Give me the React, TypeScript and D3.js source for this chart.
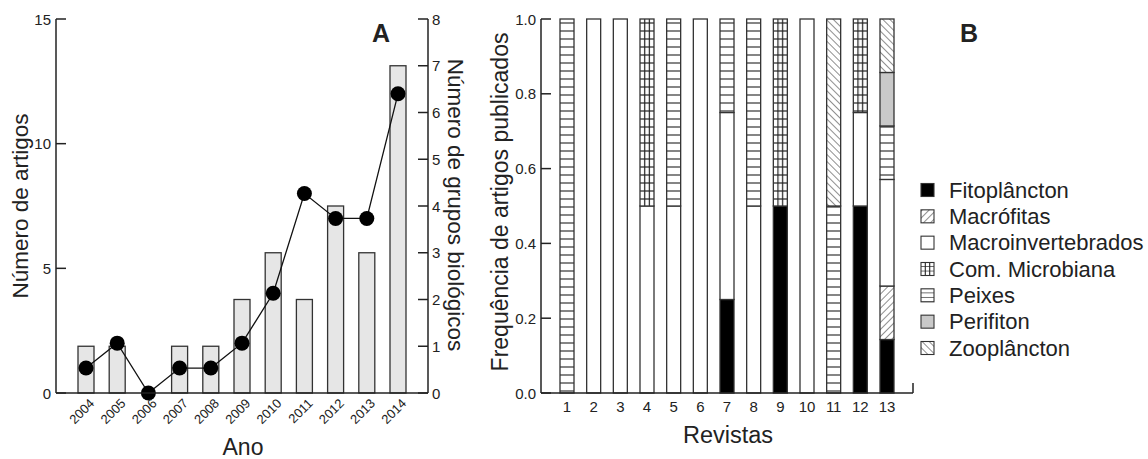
import React from "react";
import * as d3 from "d3";

// Panel A data
const years = ["2004", "2005", "2006", "2007", "2008", "2009", "2010", "2011", "2012", "2013", "2014"];
const grupos = [1, 1, 0, 1, 1, 2, 3, 2, 4, 3, 7]; // bars, right axis
const artigos = [1, 2, 0, 1, 1, 2, 4, 8, 7, 7, 12]; // dots, left axis
const leftTicks = [0, 5, 10, 15];
const rightTicks = [0, 1, 2, 3, 4, 5, 6, 7, 8];

// Panel B data
const revistas = ["1", "2", "3", "4", "5", "6", "7", "8", "9", "10", "11", "12", "13"];
const fitoplancton = [0, 0, 0, 0, 0, 0, 0.25, 0, 0.5, 0, 0, 0.5, 0.143];
const macrofitas = [0, 0, 0, 0, 0, 0, 0, 0, 0, 0, 0, 0, 0.143];
const macroinvertebrados = [0, 1, 1, 0.5, 0.5, 1, 0.5, 0.5, 0, 1, 0, 0.25, 0.285];
const microbiana = [0, 0, 0, 0.5, 0, 0, 0, 0, 0.5, 0, 0, 0.25, 0];
const peixes = [1, 0, 0, 0, 0.5, 0, 0.25, 0.5, 0, 0, 0.5, 0, 0.143];
const perifiton = [0, 0, 0, 0, 0, 0, 0, 0, 0, 0, 0, 0, 0.143];
const zooplancton = [0, 0, 0, 0, 0, 0, 0, 0, 0, 0, 0.5, 0, 0.143];
const groupNames = ["Fitoplâncton", "Macrófitas", "Macroinvertebrados", "Com. Microbiana", "Peixes", "Perifiton", "Zooplâncton"];
const freqTicks = [0, 0.2, 0.4, 0.6, 0.8, 1.0];

const font = "'Liberation Sans', Arial, sans-serif";
const ink = "#222";

export default function App() {
  // panel A scales
  const xA = d3.scalePoint<string>().domain(years).range([86, 398]);
  const yL = d3.scaleLinear().domain([0, 15]).range([393, 19]);
  const yR = d3.scaleLinear().domain([0, 8]).range([393, 19]);
  const line = d3
    .line<number>()
    .x((_, i) => xA(years[i])!)
    .y((d) => yL(d));

  // panel B scales
  const xB = d3.scalePoint<string>().domain(revistas).range([567, 887]);
  const yB = d3.scaleLinear().domain([0, 1]).range([393, 19]);
  const bw = 14;
  const step = xB.step();

  const rows = revistas.map((r, i) => {
    const o: any = { r };
    o[groupNames[0]] = fitoplancton[i];
    o[groupNames[1]] = macrofitas[i];
    o[groupNames[2]] = macroinvertebrados[i];
    o[groupNames[3]] = microbiana[i];
    o[groupNames[4]] = peixes[i];
    o[groupNames[5]] = perifiton[i];
    o[groupNames[6]] = zooplancton[i];
    return o;
  });
  const stacked = d3.stack<any>().keys(groupNames)(rows);

  const fills = ["#000", "url(#macro)", "#fff", "url(#micro)", "url(#peixes)", "#c9c9c9", "url(#zoo)"];
  const legFills = ["#000", "url(#macro)", "#fff", "url(#microLeg)", "url(#peixesLeg)", "#c9c9c9", "url(#zoo)"];
  const legY = d3.scalePoint<string>().domain(groupNames).range([190, 348]);

  return (
    <div style={{ position: "absolute", left: 0, top: 0 }}>
      <svg width={1148} height={459} style={{ display: "block", background: "#fff" }} fontFamily={font}>
        <defs>
          <pattern id="peixes" patternUnits="userSpaceOnUse" width={4} height={8} y={19}>
            <rect width={4} height={8} fill="#fff" />
            <line x1={0} x2={4} y1={4} y2={4} stroke="#333" strokeWidth={1.2} />
          </pattern>
          <pattern id="peixesLeg" patternUnits="userSpaceOnUse" width={4} height={4.5} y={legY(groupNames[4])! - 6.5}>
            <rect width={4} height={4.5} fill="#fff" />
            <line x1={0} x2={4} y1={4.4} y2={4.4} stroke="#333" strokeWidth={1.2} />
          </pattern>
          <pattern id="micro" patternUnits="userSpaceOnUse" width={step} height={8} x={xB("1")! - bw / 2} y={19}>
            <rect width={step} height={8} fill="#fff" />
            <line x1={0} x2={step} y1={4} y2={4} stroke="#222" strokeWidth={1.2} />
            <line x1={bw / 3} x2={bw / 3} y1={0} y2={8} stroke="#222" strokeWidth={1.2} />
            <line x1={(2 * bw) / 3} x2={(2 * bw) / 3} y1={0} y2={8} stroke="#222" strokeWidth={1.2} />
          </pattern>
          <pattern id="microLeg" patternUnits="userSpaceOnUse" width={13} height={4.5} x={921} y={legY(groupNames[3])! - 6.5}>
            <rect width={13} height={4.5} fill="#fff" />
            <line x1={0} x2={13} y1={4.4} y2={4.4} stroke="#222" strokeWidth={1.1} />
            <line x1={4.3} x2={4.3} y1={0} y2={4.5} stroke="#222" strokeWidth={1.1} />
            <line x1={8.7} x2={8.7} y1={0} y2={4.5} stroke="#222" strokeWidth={1.1} />
          </pattern>
          <pattern id="macro" patternUnits="userSpaceOnUse" width={5} height={5} patternTransform="rotate(45)">
            <rect width={5} height={5} fill="#fff" />
            <line x1={0} x2={0} y1={0} y2={5} stroke="#444" strokeWidth={1.2} />
          </pattern>
          <pattern id="zoo" patternUnits="userSpaceOnUse" width={5} height={5} patternTransform="rotate(-45)">
            <rect width={5} height={5} fill="#fff" />
            <line x1={0} x2={0} y1={0} y2={5} stroke="#444" strokeWidth={1.2} />
          </pattern>
        </defs>

        {/* ---------- Panel A ---------- */}
        {grupos.map((g, i) =>
          g > 0 ? (
            <rect
              key={years[i]}
              x={xA(years[i])! - 8}
              y={yR(g)}
              width={16}
              height={yR(0) - yR(g)}
              fill="#e6e6e6"
              stroke="#333"
              strokeWidth={1.3}
            />
          ) : null
        )}
        <path d={line(artigos)!} fill="none" stroke="#111" strokeWidth={1.3} />
        {artigos.map((a, i) => (
          <circle key={years[i]} cx={xA(years[i])} cy={yL(a)} r={7.5} fill="#000" />
        ))}

        {/* axes */}
        <line x1={56} x2={56} y1={19} y2={393} stroke={ink} strokeWidth={1.5} />
        <line x1={428} x2={428} y1={19} y2={393} stroke={ink} strokeWidth={1.5} />
        <line x1={56} x2={428} y1={393} y2={393} stroke={ink} strokeWidth={1.5} />
        {leftTicks.map((t) => (
          <g key={t}>
            <line x1={56} x2={66} y1={yL(t)} y2={yL(t)} stroke={ink} strokeWidth={1.5} />
            <text x={51} y={yL(t)} textAnchor="end" dominantBaseline="central" fontSize={15} fill={ink}>
              {t}
            </text>
          </g>
        ))}
        {rightTicks.map((t) => (
          <g key={t}>
            <line x1={418} x2={428} y1={yR(t)} y2={yR(t)} stroke={ink} strokeWidth={1.5} />
            <text x={432} y={yR(t)} dominantBaseline="central" fontSize={15} fill={ink}>
              {t}
            </text>
          </g>
        ))}
        {years.map((y) => (
          <text
            key={y}
            transform={`translate(${xA(y)! + 6},${401}) rotate(-45)`}
            textAnchor="end"
            dominantBaseline="central"
            fontSize={13}
            fill={ink}
          >
            {y}
          </text>
        ))}
        <text x={243} y={455} textAnchor="middle" fontSize={23} fill={ink}>
          Ano
        </text>
        <text transform="translate(20,206) rotate(-90)" textAnchor="middle" dominantBaseline="central" fontSize={22.5} fill={ink}>
          Número de artigos
        </text>
        <text transform="translate(455,205) rotate(90)" textAnchor="middle" dominantBaseline="central" fontSize={22.5} fill={ink}>
          Número de grupos biológicos
        </text>
        <text x={381} y={42} textAnchor="middle" fontSize={25} fontWeight="bold" fill={ink}>
          A
        </text>

        {/* ---------- Panel B ---------- */}
        {stacked.map((s, k) =>
          s.map((d, i) =>
            d[1] - d[0] > 0 ? (
              <rect
                key={`${k}-${i}`}
                x={xB(revistas[i])! - bw / 2}
                y={yB(d[1])}
                width={bw}
                height={yB(d[0]) - yB(d[1])}
                fill={fills[k]}
                stroke="#333"
                strokeWidth={1.3}
              />
            ) : null
          )
        )}
        <line x1={541} x2={541} y1={19} y2={393} stroke={ink} strokeWidth={1.5} />
        <line x1={541} x2={913} y1={393} y2={393} stroke={ink} strokeWidth={1.5} />
        <line x1={913} x2={913} y1={383} y2={393} stroke={ink} strokeWidth={1.5} />
        {freqTicks.map((t) => (
          <g key={t}>
            <line x1={541} x2={551} y1={yB(t)} y2={yB(t)} stroke={ink} strokeWidth={1.5} />
            <text x={536} y={yB(t)} textAnchor="end" dominantBaseline="central" fontSize={15} fill={ink}>
              {t.toFixed(1)}
            </text>
          </g>
        ))}
        {revistas.map((r) => (
          <text key={r} x={xB(r)} y={412} textAnchor="middle" fontSize={15} fill={ink}>
            {r}
          </text>
        ))}
        <text x={728} y={443} textAnchor="middle" fontSize={23.5} fill={ink}>
          Revistas
        </text>
        <text transform="translate(500,202) rotate(-90)" textAnchor="middle" dominantBaseline="central" fontSize={23} fill={ink}>
          Frequência de artigos publicados
        </text>
        <text x={969} y={42} textAnchor="middle" fontSize={25} fontWeight="bold" fill={ink}>
          B
        </text>

        {/* legend */}
        {groupNames.map((g, k) => (
          <g key={g}>
            <rect x={921} y={legY(g)! - 6.5} width={13} height={13} fill={legFills[k]} stroke="#333" strokeWidth={1.1} />
            <text x={949} y={legY(g)} dominantBaseline="central" fontSize={22} fill={ink}>
              {g}
            </text>
          </g>
        ))}
      </svg>
    </div>
  );
}
